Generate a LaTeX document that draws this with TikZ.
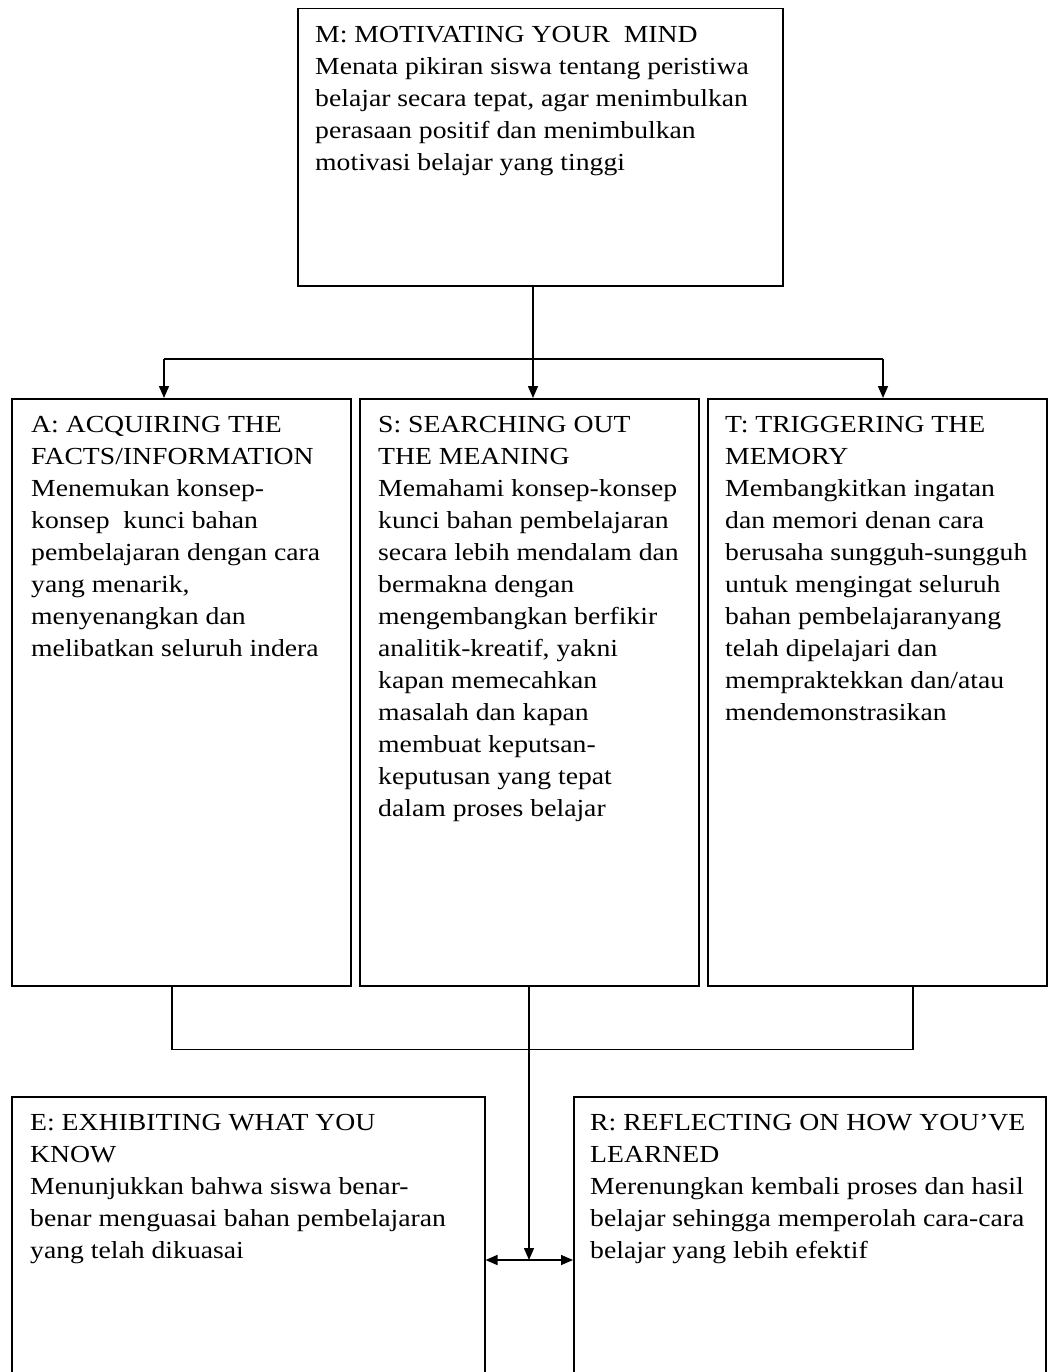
\documentclass[tikz,border=0pt]{standalone}
\usepackage{fontspec}
\setmainfont{Liberation Serif}[FakeStretch=1.13]
\usetikzlibrary{arrows.meta,calc}
\newcommand\firststrut{\rule{0pt}{17pt}}
\begin{document}
\begin{tikzpicture}[x=1pt,y=-1pt,
  box/.style={draw, line width=1.5pt, rectangle, inner sep=0pt, anchor=north west},
  txt/.style={anchor=north west, inner sep=0pt, align=left, font=\fontsize{24.5}{32}\selectfont},
  conn/.style={line width=1.5pt},
  arr/.style={line width=1.5pt, -{Triangle[length=12pt,width=10pt]}},
  darr/.style={line width=1.5pt, {Triangle[length=12pt,width=10pt]}-{Triangle[length=12pt,width=10pt]}}]
\useasboundingbox (0,0) rectangle (1048,1372);
\fill[white] (0,0) rectangle (1048,1372);
\clip (0,0) rectangle (1048,1372);
% boxes
\node[box, minimum width=485pt, minimum height=277pt] (M) at (297,8) {};
\node[box, minimum width=339pt, minimum height=587pt] (A) at (11,398) {};
\node[box, minimum width=339pt, minimum height=587pt] (S) at (359,398) {};
\node[box, minimum width=339pt, minimum height=587pt] (T) at (707,398) {};
\node[box, minimum width=473pt, minimum height=320pt] (E) at (11,1096) {};
\node[box, minimum width=472pt, minimum height=320pt] (R) at (573,1096) {};
% texts
\node[txt] (Mt) at ($(M.north west)+(18,17)$) {\firststrut M: MOTIVATING YOUR\ \ MIND\\Menata pikiran siswa tentang peristiwa\\belajar secara tepat, agar menimbulkan\\perasaan positif dan menimbulkan\\motivasi belajar yang tinggi};
\node[txt] (At) at ($(A.north west)+(20,17)$) {\firststrut A: ACQUIRING THE\\FACTS/INFORMATION\\Menemukan konsep-\\konsep\ \ kunci bahan\\pembelajaran dengan cara\\yang menarik,\\menyenangkan dan\\melibatkan seluruh indera};
\node[txt] (St) at ($(S.north west)+(19,17)$) {\firststrut S: SEARCHING OUT\\THE MEANING\\Memahami konsep-konsep\\kunci bahan pembelajaran\\secara lebih mendalam dan\\bermakna dengan\\mengembangkan berfikir\\analitik-kreatif, yakni\\kapan memecahkan\\masalah dan kapan\\membuat keputsan-\\keputusan yang tepat\\dalam proses belajar};
\node[txt] (Tt) at ($(T.north west)+(18,17)$) {\firststrut T: TRIGGERING THE\\MEMORY\\Membangkitkan ingatan\\dan memori denan cara\\berusaha sungguh-sungguh\\untuk mengingat seluruh\\bahan pembelajaranyang\\telah dipelajari dan\\mempraktekkan dan/atau\\mendemonstrasikan};
\node[txt] (Et) at ($(E.north west)+(19,17)$) {\firststrut E: EXHIBITING WHAT YOU\\KNOW\\Menunjukkan bahwa siswa benar-\\benar menguasai bahan pembelajaran\\yang telah dikuasai};
\node[txt] (Rt) at ($(R.north west)+(17,17)$) {\firststrut R: REFLECTING ON HOW YOU’VE\\LEARNED\\Merenungkan kembali proses dan hasil\\belajar sehingga memperolah cara-cara\\belajar yang lebih efektif};
% top connectors
\coordinate (m0) at ($(M.south west)+(236,0)$);
\coordinate (hl) at ($(A.north west)+(153,-39)$);
\coordinate (hr) at ($(T.north west)+(176,-39)$);
\draw[arr] (m0) -- (m0 |- S.north);
\draw[conn] (hl) -- (hr);
\draw[arr] (hl) -- (hl |- A.north);
\draw[arr] (hr) -- (hr |- T.north);
% bottom connectors
\coordinate (ab) at ($(A.south west)+(161,0)$);
\coordinate (tb) at ($(T.south west)+(206,0)$);
\coordinate (sb) at ($(S.south west)+(170,0)$);
\coordinate (el) at ($(E.north east)+(0,164)$);
\coordinate (rl) at ($(R.north west)+(0,164)$);
\draw[conn] (ab) -- ++(0,63) -| (tb);
\draw[arr] (sb) -- (sb |- el);
\draw[darr] (el) -- (rl);
\end{tikzpicture}
\end{document}
